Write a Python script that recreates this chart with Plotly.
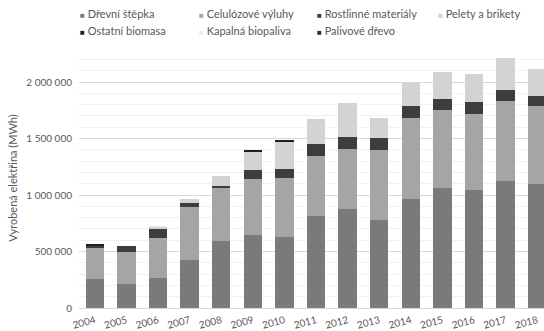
import plotly.graph_objects as go

years = ["2004", "2005", "2006", "2007", "2008", "2009", "2010", "2011",
         "2012", "2013", "2014", "2015", "2016", "2017", "2018"]

drevni_stepka = [260000, 215000, 265000, 426000, 597000, 644000, 632000, 815000,
                 874000, 779000, 965000, 1059000, 1044000, 1126000, 1094000]
celulozove_vyluhy = [275000, 280000, 353000, 471000, 462000, 500000, 521000, 529000,
                     538000, 624000, 717000, 691000, 674000, 710000, 692000]
rostlinne_materialy = [18000, 55000, 85000, 30000, 23000, 74000, 76000, 109000,
                       103000, 106000, 104000, 100000, 106000, 97000, 94000]
pelety_a_brikety = [0, 0, 20000, 38000, 88000, 164000, 241000, 220000,
                    300000, 173000, 209000, 242000, 247000, 279000, 235000]
ostatni_biomasa = [5000, 0, 0, 0, 0, 12000, 21000, 0,
                   0, 0, 0, 0, 0, 0, 0]
kapalna_biopaliva = [0, 0, 3000, 0, 0, 0, 0, 0,
                     0, 0, 0, 0, 0, 0, 0]
palivove_drevo = [0, 0, 0, 0, 0, 0, 0, 0,
                  0, 0, 0, 0, 0, 0, 0]

series_names = ["Dřevní štěpka", "Celulózové výluhy", "Rostlinné materiály",
                "Pelety a brikety", "Ostatní biomasa", "Kapalná biopaliva",
                "Palivové dřevo"]
series_values = [drevni_stepka, celulozove_vyluhy, rostlinne_materialy,
                 pelety_a_brikety, ostatni_biomasa, kapalna_biopaliva, palivove_drevo]
series_colors = ["#7a7a7a", "#a5a5a5", "#3d3d3d", "#d3d3d3", "#1f1f1f", "#ececec", "#2f2f2f"]

FONT = "Lato"
TXT = "#595959"

fig = go.Figure()
for name, vals, col in zip(series_names, series_values, series_colors):
    fig.add_trace(go.Bar(x=years, y=vals, name=name, marker=dict(color=col, line=dict(width=0)),
                         showlegend=False))

W, H = 544, 331
ml, mr, mt, mb = 79, 0, 48, 23
pw, ph = W - ml - mr, H - mt - mb

# legend drawn as annotations (compact Excel-like legend); positions in window pixels
col_px = [79, 198, 316, 437]
row_px = [13, 30]
for i, (name, col) in enumerate(zip(series_names, series_colors)):
    r, c = divmod(i, 4)
    fig.add_annotation(
        x=(col_px[c] - ml) / pw, y=(H - mb - row_px[r]) / ph,
        xref="paper", yref="paper",
        xanchor="left", yanchor="middle", showarrow=False, borderpad=0,
        text=f'<span style="color:{col};font-size:8px">■</span> {name}',
        font=dict(family=FONT, size=11, color=TXT),
    )

fig.update_layout(
    width=W, height=H,
    margin=dict(l=ml, r=mr, t=mt, b=mb, autoexpand=False),
    barmode="stack", bargap=0.42,
    plot_bgcolor="white", paper_bgcolor="white",
    separators=", ",
    font=dict(family=FONT, size=10, color=TXT),
    xaxis=dict(type="category", range=[-0.5, -0.5 + pw / 31.6], tickangle=-15,
               tickfont=dict(size=10, color=TXT), showgrid=False, ticks="",
               ticklabelstandoff=4, automargin=False, showline=False),
    yaxis=dict(range=[0, 2302000], dtick=500000, tickformat=",",
               tickfont=dict(size=10, color=TXT), gridcolor="#d9d9d9", gridwidth=1,
               zeroline=True, zerolinecolor="#d9d9d9", zerolinewidth=1,
               minor=dict(dtick=100000, showgrid=True, gridcolor="#f1f1f1", gridwidth=1),
               ticks="", ticklabelstandoff=6, automargin=False,
               title=dict(text="Vyrobená elektřina (MWh)", font=dict(size=11, color=TXT), standoff=6)),
)

fig.write_html("out.html",
               config={"displayModeBar": False},
               post_script="document.body.style.margin='0';document.body.style.overflow='hidden';")
